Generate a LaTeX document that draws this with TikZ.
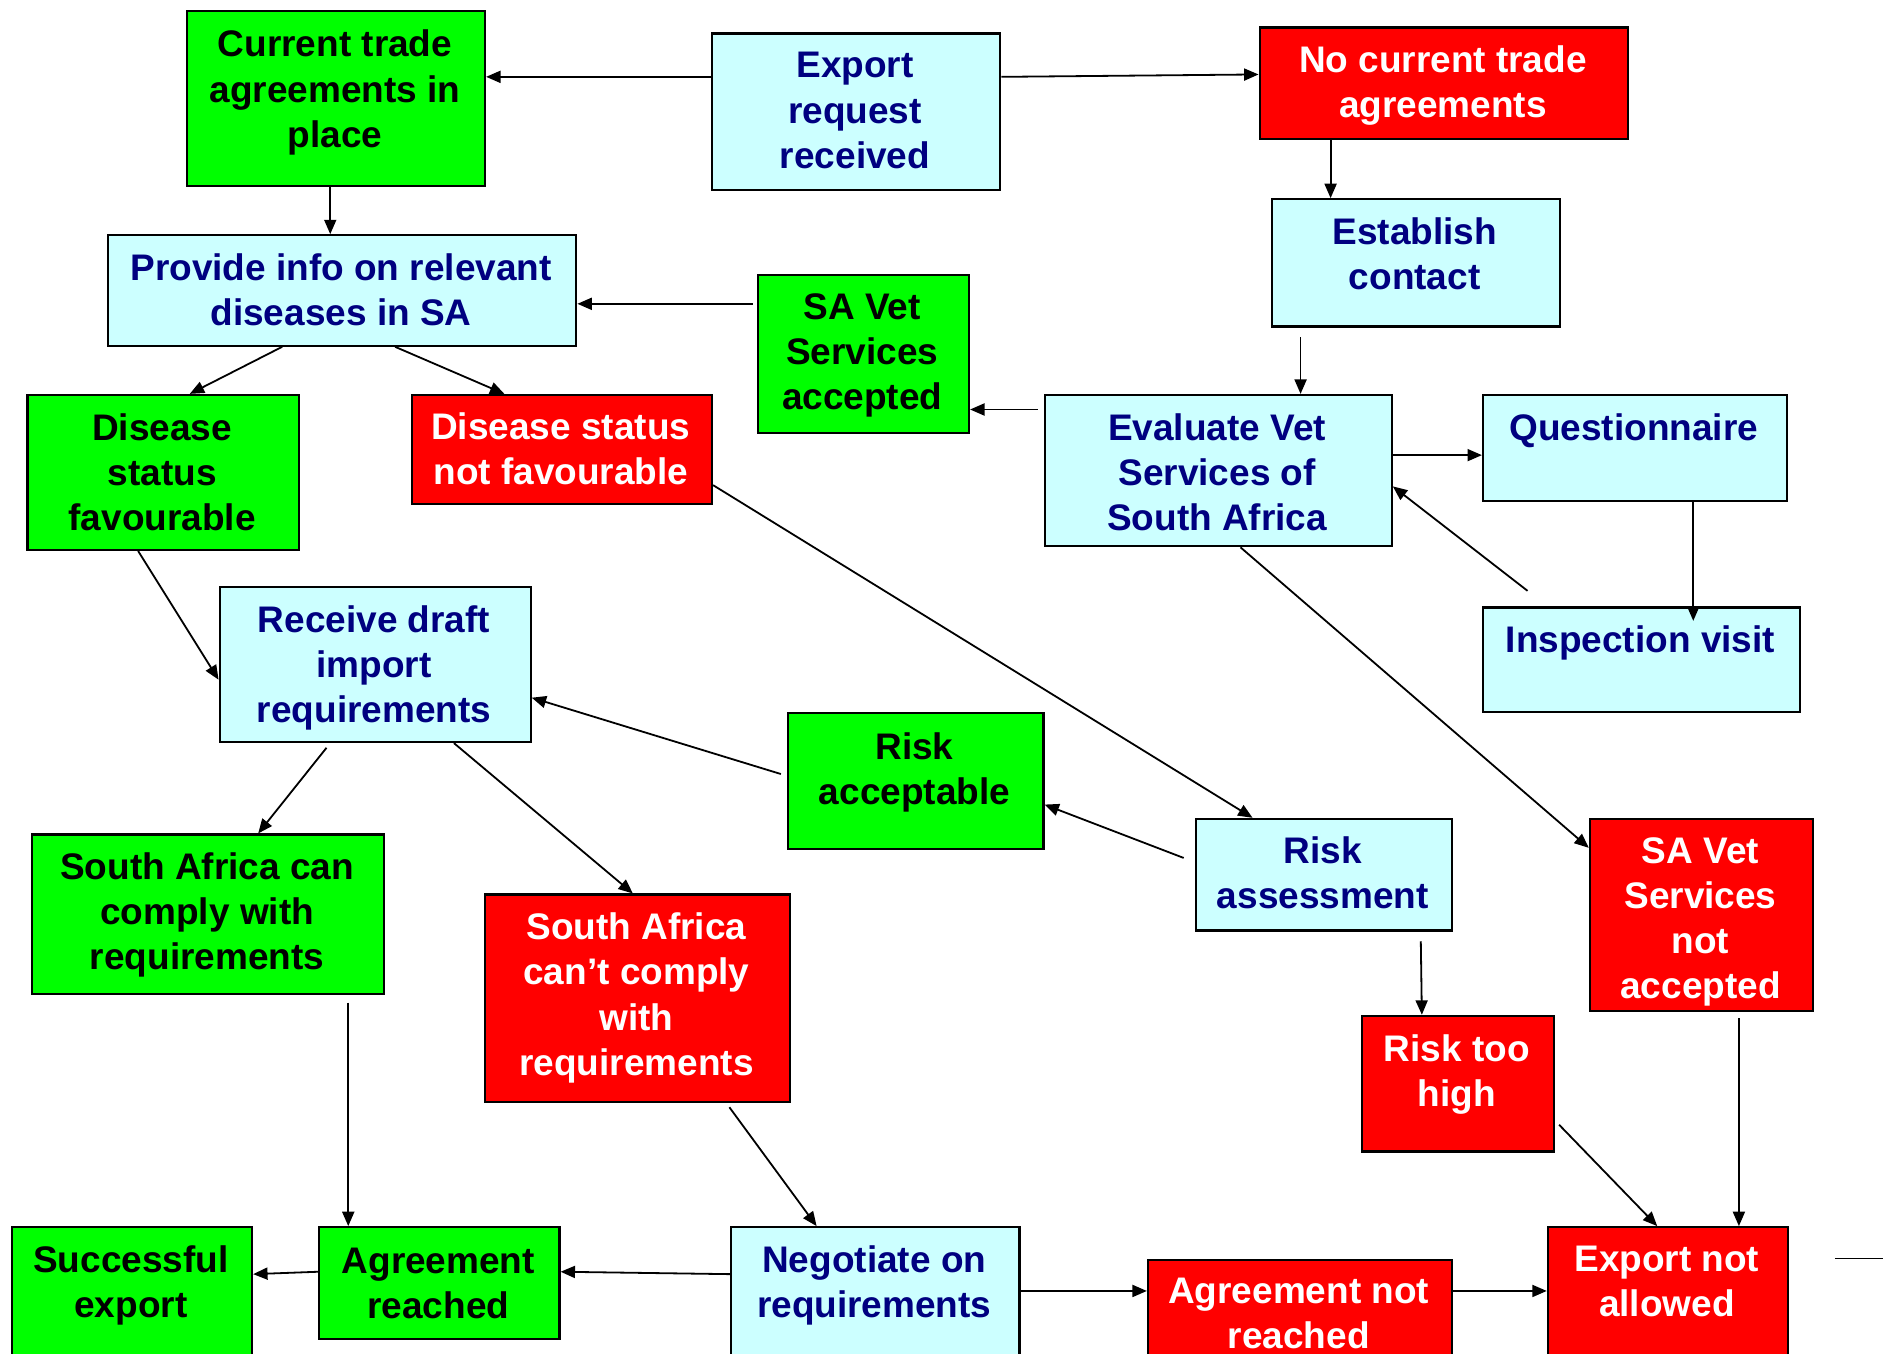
\documentclass[tikz,border=0pt]{standalone}
\usepackage{fontspec}
\setmainfont{Liberation Sans}
\usetikzlibrary{arrows.meta}
\definecolor{cgreen}{RGB}{0,255,0}
\definecolor{cred}{RGB}{255,0,0}
\definecolor{ccyan}{RGB}{204,255,255}
\definecolor{cnavy}{RGB}{0,0,128}
\tikzset{
 boxbase/.style={draw=black, line width=0.9pt, inner sep=0pt, anchor=north west},
 gbox/.style={boxbase, fill=cgreen},
 rbox/.style={boxbase, fill=cred},
 cbox/.style={boxbase, fill=ccyan},
 txtbase/.style={align=center, inner sep=0pt, font=\fontsize{15.4}{18.75}\selectfont\bfseries},
 gtxt/.style={txtbase, text=black},
 rtxt/.style={txtbase, text=white},
 ctxt/.style={txtbase, text=cnavy},
 arr/.style={draw=black, line width=0.75pt, -{Triangle[length=6pt,width=5pt]}},
 plainline/.style={draw=black, line width=0.75pt},
}
\newcommand\bx[8]{%
 \node[#2box, minimum width={(#5-#3)*0.5pt}, minimum height={(#6-#4)*0.5pt}] (#1) at (#3,#4) {};
 \node[#2txt] (#1-t) at ({(#3+#5)/2},#7) {#8};}
\begin{document}
\begin{tikzpicture}[x=0.5pt,y=-0.5pt]
\fill[white] (0,0) rectangle (1568,1127);
\useasboundingbox (0,0) rectangle (1568,1127);
\clip (0,0) rectangle (1568,1127);

\bx{cur}{g}{155}{8}{403}{154}{77}{Current trade\\agreements in\\place}
\bx{exp}{c}{592}{27}{832}{157}{92}{Export\\request\\received}
\bx{nocur}{r}{1048}{22}{1355}{115}{71}{No current trade\\agreements}
\bx{est}{c}{1058}{165}{1298}{271}{211}{Establish\\contact}
\bx{prov}{c}{89}{195}{479}{287}{241}{Provide info on relevant\\diseases in SA}
\bx{savet}{g}{630}{228}{806}{360}{296}{SA Vet\\Services\\accepted}
\bx{eval}{c}{869}{328}{1158}{454}{393}{Evaluate Vet\\Services of\\South Africa}
\bx{quest}{c}{1234}{328}{1487}{416}{359}{Questionnaire}
\bx{insp}{c}{1234}{505}{1498}{592}{535}{Inspection visit}
\bx{dfav}{g}{22}{328}{248}{457}{393}{Disease\\status\\favourable}
\bx{dnot}{r}{342}{328}{592}{419}{374}{Disease status\\not favourable}
\bx{recv}{c}{182}{488}{441}{617}{556}{Receive draft\\import\\requirements}
\bx{racc}{g}{655}{593}{868}{706}{643}{Risk\\acceptable}
\bx{rass}{c}{995}{681}{1208}{774}{727}{Risk\\assessment}
\bx{sanot}{r}{1323}{681}{1509}{841}{768}{SA Vet\\Services\\not\\accepted}
\bx{can}{g}{26}{694}{319}{827}{762}{South Africa can\\comply with\\requirements}
\bx{cant}{r}{403}{744}{657}{917}{831}{South Africa\\can’t comply\\with\\requirements}
\bx{rhigh}{r}{1133}{845}{1293}{958}{895}{Risk too\\high}
\bx{succ}{g}{9}{1021}{209}{1145}{1070}{Successful\\export}
\bx{agr}{g}{265}{1021}{465}{1114}{1069}{Agreement\\reached}
\bx{neg}{c}{608}{1021}{848}{1145}{1070}{Negotiate on\\requirements}
\bx{anr}{r}{955}{1048}{1208}{1145}{1094}{Agreement not\\reached}
\bx{enot}{r}{1288}{1021}{1488}{1145}{1067}{Export not\\allowed}

\draw[arr] (exp.west |- 0,64) -- (cur.east |- 0,64);
\draw[arr] (exp.east |- 0,64) -- (nocur.west |- 0,62);
\draw[arr] (nocur.south -| 1108,0) -- (est.north -| 1108,0);
\draw[arr] (cur.south -| 275,0) -- (prov.north -| 275,0);
\draw[arr, shorten <=1.5pt] (savet.west |- 0,253) -- (prov.east |- 0,253);
\draw[arr, shorten <=4pt] (est.south -| 1083,0) -- (eval.north -| 1083,0);
\draw[arr, shorten <=2.5pt] (eval.west |- 0,341) -- (savet.east |- 0,341);
\draw[arr] (eval.east |- 0,379) -- (quest.west |- 0,379);
\draw[arr, shorten >=-6pt] (quest.south -| 1410,0) -- (insp.north -| 1410,0);
\coordinate (jstart) at (1272,492);
\draw[arr] (jstart) -- (eval.east |- 0,405);
\draw[arr] (prov.south -| 235,0) -- (dfav.north -| 158,0);
\draw[arr] (prov.south -| 329,0) -- (dnot.north -| 420,0);
\draw[arr] (dfav.south -| 115,0) -- (recv.west |- 0,566);
\draw[arr] (dnot.east |- 0,404) -- (rass.north -| 1043,0);
\draw[arr] (eval.south -| 1033,0) -- (sanot.west |- 0,706);
\draw[arr, shorten <=2.5pt] (racc.west |- 0,646) -- (recv.east |- 0,581);
\draw[arr, shorten <=5pt] (rass.west |- 0,718) -- (racc.east |- 0,670);
\draw[arr, shorten <=2.5pt] (recv.south -| 275,0) -- (can.north -| 215,0);
\draw[arr] (recv.south -| 378,0) -- (cant.north -| 527,0);
\draw[arr, shorten <=4pt] (rass.south -| 1183,0) -- (rhigh.north -| 1184,0);
\draw[arr, shorten <=2.5pt] (sanot.south -| 1448,0) -- (enot.north -| 1448,0);
\draw[arr, shorten <=2.5pt] (rhigh.east |- 0,933) -- (enot.north -| 1380,0);
\draw[arr, shorten <=3pt] (can.south -| 290,0) -- (agr.north -| 290,0);
\draw[arr, shorten <=2pt] (cant.south -| 605,0) -- (neg.north -| 680,0);
\draw[arr] (neg.west |- 0,1061) -- (agr.east |- 0,1059);
\draw[arr] (agr.west |- 0,1059) -- (succ.east |- 0,1061);
\draw[arr] (neg.east |- 0,1075) -- (anr.west |- 0,1075);
\draw[arr] (anr.east |- 0,1075) -- (enot.west |- 0,1075);
\coordinate (ca) at (1528,1048);
\coordinate (cb) at (1570,1048);
\draw[plainline] (ca) -- (cb);
\end{tikzpicture}
\end{document}
